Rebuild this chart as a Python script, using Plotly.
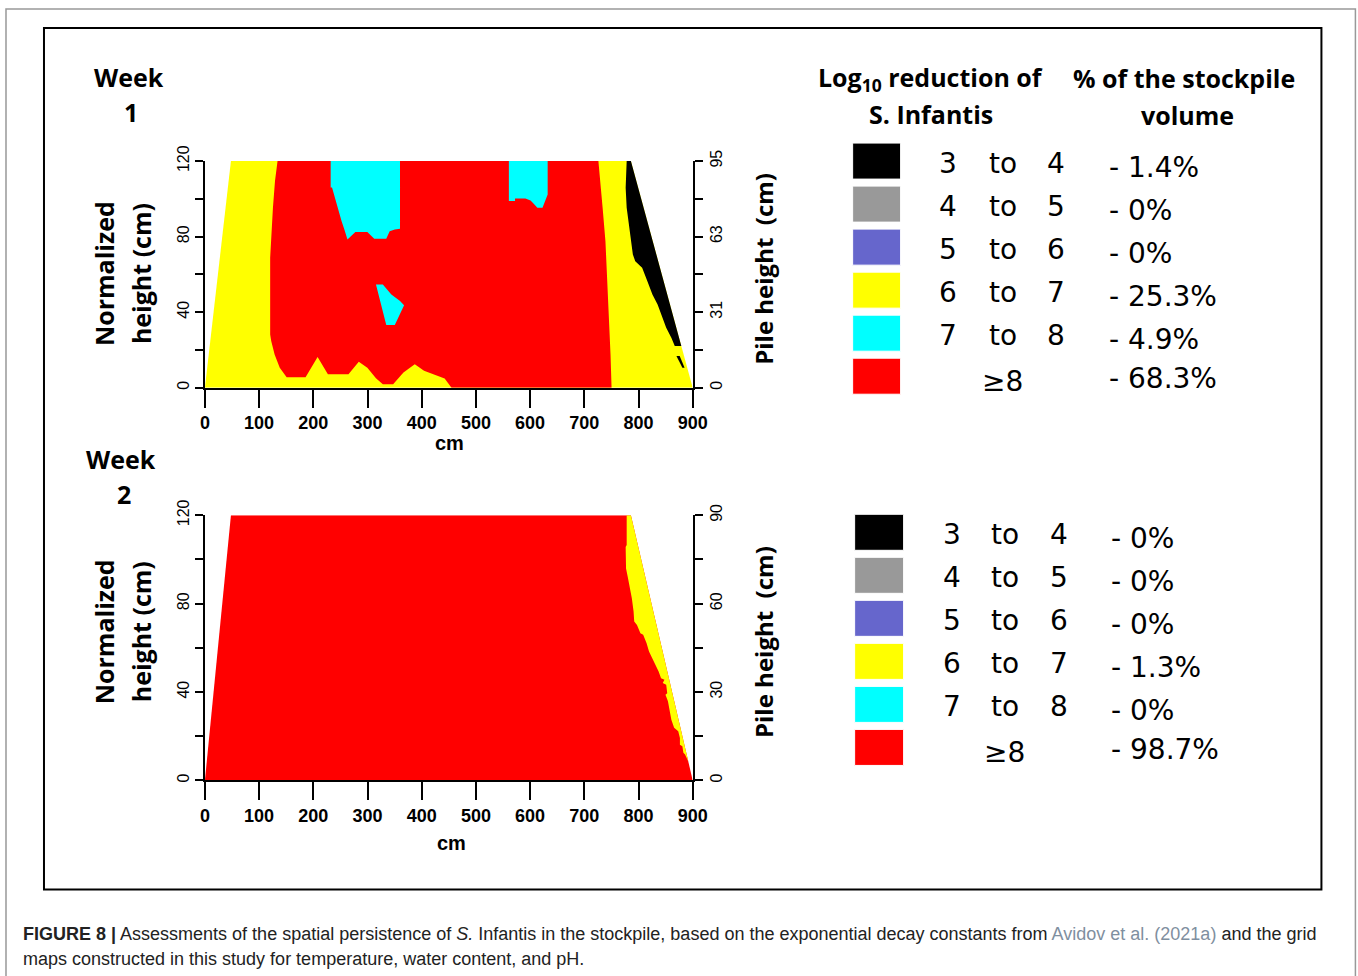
import plotly.graph_objects as go

W, H = 1358, 976

# ---------------- data ----------------
x_tick_values = [0, 100, 200, 300, 400, 500, 600, 700, 800, 900]
y_tick_values = [0, 40, 80, 120]
y_minor_values = [20, 60, 100]
y_tick_labels = ["0", "40", "80", "120"]
pile_labels_week1 = ["0", "31", "63", "95"]
pile_labels_week2 = ["0", "30", "60", "90"]

class_low = ["3", "4", "5", "6", "7"]
class_high = ["4", "5", "6", "7", "8"]
class_top = "≥8"
class_colors = ["#000000", "#999999", "#6666CC", "#FFFF00", "#00FFFF", "#FF0000"]
pct_week1 = ["1.4%", "0%", "0%", "25.3%", "4.9%", "68.3%"]
pct_week2 = ["0%", "0%", "0%", "1.3%", "0%", "98.7%"]

# pile outline (cm, normalized height)
pile_x = [0, 48, 786, 900]
pile_y = [0, 120, 120, 0]

# Week 1 regions
w1_red_x = [134, 129.3, 125.5, 122.9, 120.4, 120.4, 122.3, 128.6, 138.1, 150.8, 185.7, 207.9,
            226.9, 264.9, 283.9, 299.7, 315.6, 328.3, 347.3, 366.3, 387.2, 404.3, 423.3, 442.3,
            455, 750.3, 748.4, 746.5, 743.4, 739, 733.8, 728.6, 726]
w1_red_y = [120, 109.4, 95.3, 81.2, 68.8, 28.2, 24.7, 17.6, 10.6, 5.6, 5.6, 16.2,
            7.1, 7.1, 13.8, 10.6, 5.0, 1.8, 1.8, 8.0, 12.4, 9.0, 7.1, 4.9,
            0, 0, 17.6, 31.8, 54.7, 77.6, 95.3, 109.4, 120]
w1_cyan_a_x = [232, 232, 234.5, 239.5, 245.9, 252.2, 257.3, 263, 277.6, 299.7, 312.4, 334.6, 340.9, 350.4, 360, 360]
w1_cyan_a_y = [120, 106, 106, 100.6, 93.5, 88.2, 83.8, 78.5, 82.4, 82.4, 78.9, 78.9, 82.9, 83.8, 84.2, 120]
w1_cyan_b_x = [560.8, 560.8, 572.2, 572.2, 591.3, 600.8, 607.1, 613.4, 622.9, 629.3, 632.4, 632.4]
w1_cyan_b_y = [120, 98.8, 98.8, 100.2, 100.2, 99.1, 97.3, 95.3, 95.3, 100.6, 102.3, 120]
w1_cyan_c_x = [315.6, 328.3, 344, 360, 367.5, 350.4, 334.6]
w1_cyan_c_y = [54.7, 54.7, 49.4, 45.9, 43.6, 33.2, 33.2]
w1_black_a_x = [778.2, 776.3, 778.2, 781.4, 785.8, 789.6, 794, 806.7, 816.2, 825.7, 835.2, 841.6,
                851.1, 860.6, 866.9, 879, 786]
w1_black_a_y = [120, 105.9, 95.3, 88.2, 79.4, 70.6, 67, 63.5, 56.5, 49.4, 44.1, 38.8,
                31.8, 26.5, 22.1, 22.1, 120]
w1_black_b_x = [870, 876, 885, 881]
w1_black_b_y = [16.8, 16.8, 10.6, 10.6]

# Week 2 regions
w2_yellow_x = [778.2, 778.2, 776.3, 777, 780.1, 784.5, 787.7, 790.9, 792.1, 797.2, 803.5, 808.6,
               814.9, 819.4, 825.7, 832.1, 837.1, 841.6, 847.9, 844.7, 851.1, 853, 849.8, 854.3,
               857.5, 860.6, 865.7, 873.3, 876.4, 876.4, 880.9, 882.8, 885.9, 892, 786]
w2_yellow_y = [120, 106.5, 105.7, 95.9, 92.2, 86.9, 82.4, 76.4, 71.9, 70.4, 66.6, 65.9,
               62.1, 58.3, 55.3, 52.3, 49.3, 46.3, 45.6, 44.1, 43.3, 39.5, 38.8, 35.8,
               32, 27.5, 23.8, 22.3, 19.2, 16.2, 15.5, 12.5, 11.7, 8.5, 120]

# ---------------- helpers (layout only) ----------------
# compensation for the observed placement of the rendered page
SX, SY, OX, OY = 0.9857, 0.981, 4.0, 15.0

def px(x):
    return ((x - OX) / SX) / W

def py(y):
    return 1 - ((y - OY) / SY) / H

fig = go.Figure()

def poly(xs, ys, color, xa, ya):
    fig.add_trace(go.Scatter(x=xs, y=ys, fill="toself", fillcolor=color, mode="lines",
                             line=dict(width=0, color=color), hoverinfo="skip",
                             showlegend=False, xaxis=xa, yaxis=ya))

RED, YEL, CYA, BLK = class_colors[5], class_colors[3], class_colors[4], class_colors[0]

# week 1
poly(pile_x, pile_y, YEL, "x", "y")
poly(w1_red_x, w1_red_y, RED, "x", "y")
poly(w1_cyan_a_x, w1_cyan_a_y, CYA, "x", "y")
poly(w1_cyan_b_x, w1_cyan_b_y, CYA, "x", "y")
poly(w1_cyan_c_x, w1_cyan_c_y, CYA, "x", "y")
poly(w1_black_a_x, w1_black_a_y, BLK, "x", "y")
poly(w1_black_b_x, w1_black_b_y, BLK, "x", "y")
# week 2
poly(pile_x, pile_y, RED, "x2", "y3")
poly(w2_yellow_x, w2_yellow_y, YEL, "x2", "y3")

# invisible traces to activate right axes
for ya, xa in (("y2", "x"), ("y4", "x2")):
    fig.add_trace(go.Scatter(x=[0, 900], y=[0, 120], mode="markers", marker=dict(opacity=0),
                             hoverinfo="skip", showlegend=False, xaxis=xa, yaxis=ya))

xdom = [px(204), px(692)]
top_dom = [py(386.5), py(160)]
bot_dom = [py(779), py(514)]

xcommon = dict(range=[0, 900], tickvals=x_tick_values,
               ticktext=[f"<b>{v}</b>" for v in x_tick_values],
               ticks="outside", ticklen=18, tickwidth=2, tickcolor="black",
               showline=True, linewidth=2, linecolor="black", showgrid=False, zeroline=False,
               tickfont=dict(family="Arial", size=18, color="black"), domain=xdom, fixedrange=True)
ycommon = dict(range=[0, 120], tickvals=y_tick_values, ticks="outside", ticklen=8, tickwidth=2,
               tickcolor="black", showline=True, linewidth=2, linecolor="black",
               showgrid=False, zeroline=False, tickangle=-90,
               minor=dict(tickvals=y_minor_values, ticks="outside", ticklen=8, tickwidth=2,
                          tickcolor="black", showgrid=False),
               tickfont=dict(family="Arial", size=16, color="black"), fixedrange=True)

fig.update_layout(
    width=W, height=H, margin=dict(l=0, r=0, t=0, b=0),
    paper_bgcolor="white", plot_bgcolor="white",
    xaxis=dict(**xcommon, anchor="y"),
    yaxis=dict(**ycommon, domain=top_dom, anchor="x", ticktext=y_tick_labels),
    yaxis2=dict(**ycommon, domain=top_dom, anchor="x", overlaying="y", side="right",
                ticktext=pile_labels_week1),
    xaxis2=dict(**xcommon, anchor="y3"),
    yaxis3=dict(**ycommon, domain=bot_dom, anchor="x2", ticktext=y_tick_labels),
    yaxis4=dict(**ycommon, domain=bot_dom, anchor="x2", overlaying="y3", side="right",
                ticktext=pile_labels_week2),
)

ann = []
BOLD = "Open Sans"

def text(x, y, t, size, family=BOLD, angle=0, xanchor="center", color="black", bold=True):
    ann.append(dict(x=px(x), y=py(y), xref="paper", yref="paper", text=(f"<b>{t}</b>" if bold else t),
                    showarrow=False, textangle=angle, xanchor=xanchor, yanchor="middle",
                    font=dict(family=family, size=size, color=color)))

# panel labels
text(128, 76, "Week", 25)
text(130, 111, "1", 25)
text(120, 458, "Week", 25)
text(123, 493, "2", 25)
for cy in (272, 630):
    text(103, cy, "Normalized", 25, angle=-90)
    text(140, cy, "height (cm)", 25, angle=-90)
text(762, 268, "Pile height  (cm)", 24, angle=-90)
text(763, 641, "Pile height  (cm)", 24, angle=-90)
text(449, 442, "cm", 20, family="Arial")
text(451, 842, "cm", 20, family="Arial")

# legend headers
text(930, 77, "Log<sub>10</sub> reduction of", 25)
text(930, 113, "S. Infantis", 25)
text(1184, 77, "% of the stockpile", 25)
text(1187, 114, "volume", 25)

shapes = []
LEG = "DejaVu Sans"

def legend(sq_x0, sq_x1, row0, num_x, pct_x, pcts):
    for i, col in enumerate(class_colors):
        cy = row0 + 43 * i
        shapes.append(dict(type="rect", xref="paper", yref="paper",
                           x0=px(sq_x0), x1=px(sq_x1), y0=py(cy - 1 + 18), y1=py(cy - 1 - 18),
                           fillcolor=col, line=dict(width=1, color="white")))
        if i < len(class_low):
            text(num_x[0], cy + 1, class_low[i], 28, family=LEG, bold=False)
            text(num_x[1], cy + 1, "to", 28, family=LEG, bold=False)
            text(num_x[2], cy + 1, class_high[i], 28, family=LEG, bold=False)
            text(pct_x, cy + 5, "- " + pcts[i], 28, family=LEG, xanchor="left", bold=False)
        else:
            text(num_x[1], cy + 4, class_top, 28, family=LEG, bold=False)
            text(pct_x, cy + 1, "- " + pcts[i], 28, family=LEG, xanchor="left", bold=False)

legend(852, 900, 161, (947, 1002, 1055), 1106, pct_week1)
legend(854, 903, 532, (951, 1004, 1058), 1108, pct_week2)

# frames
shapes.append(dict(type="rect", xref="paper", yref="paper", x0=px(5), x1=px(1355), y0=-0.05, y1=py(8),
                   line=dict(width=1.5, color="#999999")))
shapes.append(dict(type="rect", xref="paper", yref="paper", x0=px(43), x1=px(1321), y0=py(888), y1=py(27),
                   line=dict(width=2, color="black")))

# caption
ann.append(dict(x=px(20), y=py(932), xref="paper", yref="paper", xanchor="left", yanchor="middle",
                showarrow=False, font=dict(family="Liberation Sans", size=18, color="#222222"),
                text="<b>FIGURE 8 |</b> Assessments of the spatial persistence of <i>S.</i> Infantis in the "
                     "stockpile, based on the exponential decay constants from "
                     "<span style='color:#7f8fa0'>Avidov et al. (2021a)</span> and the grid"))
ann.append(dict(x=px(20), y=py(957), xref="paper", yref="paper", xanchor="left", yanchor="middle",
                showarrow=False, font=dict(family="Liberation Sans", size=18, color="#222222"),
                text="maps constructed in this study for temperature, water content, and pH."))

fig.update_layout(annotations=ann, shapes=shapes)
fig.write_html("out.html")
